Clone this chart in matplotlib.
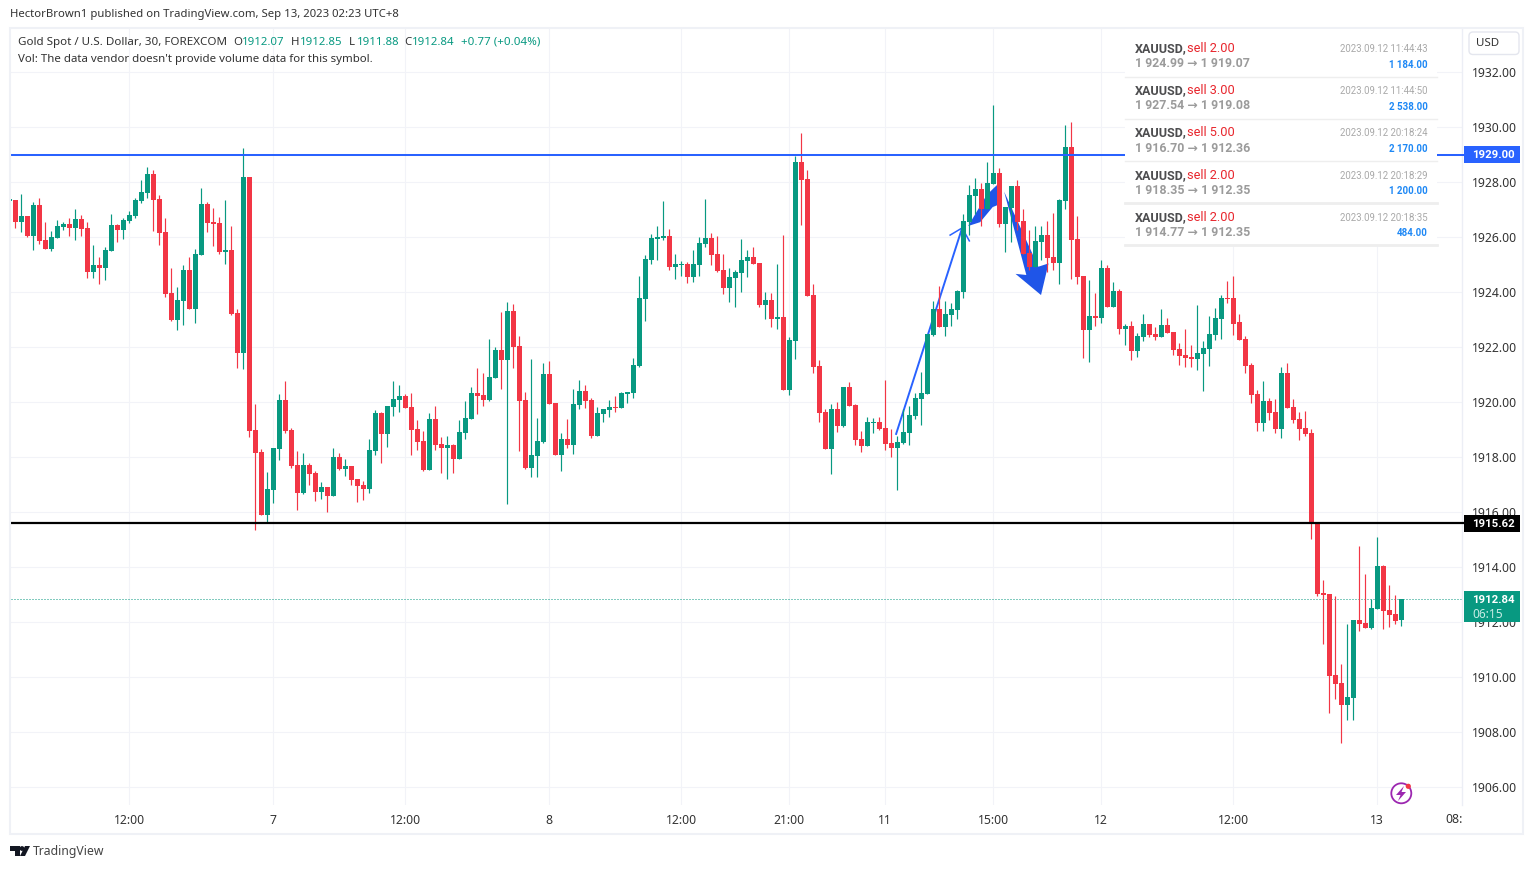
import matplotlib
matplotlib.use("Agg")
import matplotlib.pyplot as plt
import matplotlib.transforms as mtrans
from matplotlib.patches import Rectangle, FancyBboxPatch, Circle, Polygon
from matplotlib.lines import Line2D

# ---------- data (30 min bars, index 0 = first fully visible bar, first entry is the clipped bar before it) ----------
direction = ("G" "RGRGRRGGGR" "GRRGRGGRGG" "GGGRRRRGGR" "GGRRRGRRGR" "RRGGGRRRGR" "RGRGRGRRRG"
             "GRGGGRRRRG" "RRGRGGGRRG" "GRGRRRGGGR" "RGRGGRRGGG" "RGGGGGGGGR" "GGRGGGRRRG"
             "GGGRRGRGRG" "GRRRRRGRGR" "RRGGRRRGGG" "GGGGRGGGGG" "GRGGRGGRRR" "GGRRGGRRRG"
             "RGRGRGRGGR" "RGRRRRRGGG" "GGRRRRRRGR" "RGRRRRRRRR" "RRGGRRGGRR" "RG")
highs = [1927.38,
 1927.36,1927.58,1926.78,1927.29,1927.43,1926.56,1926.23,1926.63,1926.56,1926.70,
 1927.03,1926.81,1926.56,1925.72,1925.28,1925.65,1926.85,1926.48,1926.70,1926.96,
 1927.43,1928.08,1928.56,1928.45,1927.54,1926.70,1924.88,1924.19,1924.99,1925.28,
 1925.58,1927.79,1927.29,1927.07,1926.74,1927.36,1926.41,1923.39,1929.25,1928.19,
 1919.94,1918.30,1917.47,1918.34,1920.30,1920.78,1919.07,1918.23,1918.16,1917.79,
 1917.50,1917.10,1916.92,1918.34,1918.16,1917.94,1917.69,1917.21,1917.14,1918.67,
 1919.72,1919.65,1919.87,1920.77,1920.63,1920.30,1920.34,1919.36,1918.96,1919.61,
 1919.87,1918.74,1918.78,1918.48,1919.36,1920.05,1920.56,1921.25,1921.07,1922.30,
 1922.01,1923.28,1923.65,1923.58,1922.41,1920.38,1921.58,1919.43,1921.43,1921.50,
 1919.98,1918.88,1919.39,1920.48,1920.81,1920.63,1920.16,1919.83,1919.76,1920.08,
 1920.23,1920.38,1920.38,1921.61,1924.59,1925.36,1926.12,1926.41,1927.32,1926.30,
 1925.39,1925.14,1925.10,1925.54,1926.01,1927.39,1926.16,1926.05,1925.39,1924.88,
 1924.81,1925.94,1925.54,1925.65,1925.07,1924.01,1923.98,1925.03,1926.09,1922.38,
 1928.96,1929.79,1928.45,1924.30,1921.54,1919.76,1919.94,1920.01,1920.56,1920.74,
 1919.94,1918.96,1919.47,1919.43,1919.47,1920.81,1919.03,1918.78,1919.76,1919.87,
 1920.34,1921.10,1922.49,1923.68,1924.23,1923.68,1923.61,1924.09,1926.85,1927.90,
 1928.16,1927.98,1928.74,1930.81,1928.52,1927.10,1927.87,1928.09,1927.03,1926.27,
 1926.41,1926.41,1926.59,1926.89,1927.39,1930.09,1930.19,1926.78,1924.60,1924.45,
 1923.98,1925.18,1925.00,1924.38,1924.12,1922.85,1922.96,1922.52,1923.21,1922.85,
 1922.74,1923.39,1923.07,1922.56,1922.16,1922.67,1922.09,1923.54,1922.23,1923.14,
 1923.43,1923.90,1924.41,1924.59,1923.21,1922.41,1921.43,1920.45,1920.78,1920.16,
 1920.12,1921.29,1921.43,1920.12,1919.65,1919.69,1919.03,1915.65,1913.54,1913.03,
 1912.96,1910.48,1911.94,1912.08,1914.78,1913.76,1912.85,1915.10,1914.09,1913.36,
 1912.99,1912.85]
body_tops = [1927.38,
 1927.36,1926.78,1926.78,1927.18,1927.18,1925.90,1926.01,1926.41,1926.48,1926.48,
 1926.67,1926.67,1926.34,1924.99,1924.99,1925.54,1926.45,1926.45,1926.63,1926.81,
 1927.36,1927.65,1928.30,1928.30,1927.39,1926.19,1923.98,1923.72,1924.81,1924.81,
 1925.39,1927.21,1927.21,1926.56,1926.52,1925.54,1925.54,1923.25,1928.19,1928.19,
 1919.00,1918.19,1916.85,1918.34,1920.08,1920.08,1919.00,1917.72,1917.72,1917.72,
 1917.43,1916.92,1916.92,1918.01,1918.01,1917.69,1917.69,1917.21,1916.99,1918.27,
 1919.61,1919.61,1919.87,1920.12,1920.23,1920.23,1919.83,1919.03,1918.59,1919.39,
 1919.39,1918.48,1918.45,1918.45,1918.92,1919.43,1920.34,1920.34,1920.27,1920.92,
 1921.90,1921.90,1923.32,1923.32,1922.05,1920.08,1918.08,1918.59,1921.03,1921.03,
 1919.98,1918.67,1918.67,1919.94,1920.41,1920.41,1920.08,1919.61,1919.76,1919.83,
 1919.83,1920.34,1920.38,1921.36,1923.79,1925.21,1925.98,1926.01,1926.05,1926.05,
 1925.03,1925.03,1925.03,1925.03,1925.79,1925.98,1925.98,1925.39,1924.81,1924.56,
 1924.74,1925.18,1925.29,1925.29,1925.07,1923.72,1923.72,1923.10,1923.10,1922.27,
 1928.74,1928.74,1928.12,1923.90,1921.32,1919.65,1919.76,1919.76,1920.56,1920.56,
 1919.90,1918.67,1919.29,1919.29,1919.29,1919.07,1918.52,1918.56,1918.92,1919.54,
 1920.16,1920.34,1922.49,1923.39,1923.39,1923.21,1923.39,1924.05,1926.59,1927.54,
 1927.76,1927.76,1927.98,1928.34,1928.34,1927.10,1927.87,1927.87,1926.59,1925.43,
 1925.87,1926.09,1926.09,1925.29,1927.36,1929.29,1929.29,1925.94,1924.60,1923.14,
 1923.14,1924.88,1924.88,1924.05,1924.05,1922.78,1922.78,1922.41,1922.85,1922.85,
 1922.49,1922.81,1922.81,1922.56,1921.94,1921.72,1921.65,1921.80,1921.98,1922.49,
 1923.07,1923.79,1923.79,1923.79,1922.92,1922.30,1921.36,1920.30,1920.05,1920.05,
 1919.65,1921.07,1921.07,1919.83,1919.39,1919.07,1918.89,1915.65,1913.07,1913.03,
 1910.09,1909.79,1909.29,1912.08,1912.08,1911.98,1912.52,1914.05,1914.05,1912.45,
 1912.30,1912.84]
body_bottoms = [1927.32,
 1926.57,1926.56,1926.05,1926.05,1925.87,1925.58,1925.58,1925.98,1926.38,1926.34,
 1926.34,1926.30,1924.74,1924.74,1924.88,1924.88,1925.50,1926.27,1926.27,1926.59,
 1926.78,1927.32,1927.61,1927.36,1926.16,1923.94,1922.99,1922.99,1923.68,1923.39,
 1923.39,1925.36,1926.52,1926.48,1925.47,1925.47,1923.21,1921.79,1921.79,1918.96,
 1918.16,1915.90,1915.90,1916.81,1918.30,1918.96,1917.68,1916.70,1916.70,1917.39,
 1916.74,1916.74,1916.59,1916.59,1917.58,1917.58,1917.18,1916.96,1916.85,1916.85,
 1918.23,1918.85,1918.85,1919.83,1920.08,1919.79,1918.99,1918.56,1917.54,1917.54,
 1918.45,1918.34,1918.34,1917.94,1917.94,1918.88,1919.39,1920.23,1920.08,1920.08,
 1920.89,1921.54,1921.54,1922.01,1920.05,1917.61,1917.61,1918.05,1918.56,1919.94,
 1918.08,1918.08,1918.45,1918.45,1919.90,1920.05,1918.78,1918.78,1919.58,1919.72,
 1919.79,1919.79,1920.30,1920.34,1921.32,1923.76,1925.18,1925.94,1925.98,1924.92,
 1924.92,1924.99,1924.56,1924.56,1924.99,1925.76,1925.36,1924.78,1924.16,1924.16,
 1924.52,1924.70,1925.14,1925.03,1923.54,1923.54,1923.03,1923.03,1920.45,1920.45,
 1922.23,1928.09,1923.87,1921.29,1919.61,1918.30,1918.30,1919.14,1919.14,1919.87,
 1918.63,1918.41,1918.41,1919.25,1919.03,1918.48,1918.34,1918.34,1918.52,1918.89,
 1919.50,1920.12,1920.30,1922.45,1922.74,1922.74,1923.18,1923.36,1924.01,1926.56,
 1927.50,1927.03,1927.03,1927.94,1926.49,1926.49,1927.07,1926.56,1925.39,1924.92,
 1924.92,1925.83,1925.25,1925.07,1925.07,1927.32,1925.90,1924.56,1922.63,1922.63,
 1923.07,1923.07,1923.47,1923.47,1922.67,1922.67,1921.87,1921.87,1922.38,1922.45,
 1922.38,1922.38,1922.52,1921.90,1921.69,1921.61,1921.58,1921.58,1921.76,1921.94,
 1922.45,1923.03,1923.76,1922.85,1922.27,1921.32,1920.27,1919.25,1919.25,1919.61,
 1919.03,1919.03,1919.79,1919.36,1919.03,1918.85,1915.61,1913.03,1912.99,1910.05,
 1909.76,1908.99,1908.99,1909.25,1911.94,1911.79,1911.79,1912.49,1912.41,1912.27,
 1912.05,1912.07]
lows = [1927.32,
 1926.35,1926.19,1926.01,1925.54,1925.76,1925.58,1925.50,1925.98,1926.27,1926.05,
 1925.90,1926.05,1924.52,1924.52,1924.30,1924.45,1925.50,1925.83,1925.94,1926.52,
 1926.70,1927.25,1927.43,1926.23,1925.72,1923.83,1922.96,1922.63,1922.81,1923.39,
 1922.89,1925.36,1926.19,1925.68,1925.39,1925.03,1923.18,1921.25,1921.21,1918.74,
 1915.36,1915.90,1915.61,1916.34,1917.90,1918.89,1917.61,1916.08,1916.67,1916.99,
 1916.41,1916.49,1916.01,1916.59,1917.54,1917.32,1916.99,1916.38,1916.45,1916.70,
 1918.09,1917.79,1918.38,1919.50,1919.65,1919.79,1918.08,1918.27,1917.50,1917.54,
 1918.27,1917.43,1917.21,1917.43,1917.94,1918.67,1919.39,1919.58,1919.87,1920.05,
 1920.89,1920.48,1916.30,1921.25,1918.23,1917.58,1917.29,1917.29,1918.52,1919.94,
 1918.08,1917.50,1918.34,1918.12,1919.76,1919.79,1918.70,1918.78,1919.29,1919.47,
 1919.65,1919.79,1919.98,1920.16,1921.29,1922.96,1925.03,1925.18,1925.90,1924.81,
 1924.48,1924.59,1924.34,1924.38,1924.59,1925.65,1924.99,1924.74,1923.94,1923.65,
 1923.47,1924.01,1924.56,1925.03,1923.47,1923.03,1922.74,1922.67,1920.45,1920.27,
 1921.58,1926.45,1923.87,1921.07,1919.29,1918.30,1917.39,1918.92,1919.10,1919.87,
 1918.45,1918.19,1918.41,1918.89,1918.99,1918.27,1918.01,1916.81,1918.48,1918.45,
 1919.39,1919.18,1920.30,1922.41,1922.74,1922.41,1922.78,1923.03,1923.79,1926.09,
 1926.85,1926.41,1927.03,1927.94,1926.38,1925.47,1925.83,1926.27,1925.39,1924.81,
 1924.92,1925.18,1924.74,1924.81,1924.30,1927.03,1924.48,1924.30,1921.61,1921.47,
 1922.78,1922.89,1923.47,1923.47,1922.49,1922.09,1921.54,1921.65,1922.23,1922.38,
 1922.27,1922.38,1922.52,1921.72,1921.36,1921.29,1921.29,1921.18,1920.41,1921.32,
 1922.27,1922.30,1923.61,1922.45,1922.27,1921.07,1919.98,1918.96,1918.96,1919.36,
 1918.89,1918.70,1919.79,1919.25,1918.63,1918.78,1915.03,1912.96,1911.21,1908.70,
 1909.21,1907.61,1908.45,1908.45,1911.68,1911.79,1911.76,1912.49,1911.76,1911.83,
 1911.94,1911.88]

price_ticks = [1906 + 2 * k for k in range(14)]
time_ticks = [19, 43, 65, 89, 111, 129, 145, 163, 181, 203, 227]
time_labels = ["12:00", "7", "12:00", "8", "12:00", "21:00", "11", "15:00", "12", "12:00", "13"]
resistance = 1929.00
support = 1915.62
last_price = 1912.84

trade_sides = ["sell 2.00", "sell 3.00", "sell 5.00", "sell 2.00", "sell 2.00"]
trade_moves = ["1 924.99 → 1 919.07", "1 927.54 → 1 919.08", "1 916.70 → 1 912.36",
               "1 918.35 → 1 912.35", "1 914.77 → 1 912.35"]
trade_times = ["2023.09.12 11:44:43", "2023.09.12 11:44:50", "2023.09.12 20:18:24",
               "2023.09.12 20:18:29", "2023.09.12 20:18:35"]
trade_profits = ["1 184.00", "2 538.00", "2 170.00", "1 200.00", "484.00"]

# hand-drawn arrows: (bar index, price)
thin_arrow = [(146.8, 1918.85), (157.8, 1926.34)]
thin_barbs = [(155.8, 1926.08), (157.8, 1926.34), (159.0, 1925.87)]
wedge_up = [(158.8, 1926.41), (161.9, 1927.54), (163.6, 1927.90), (163.7, 1927.17), (162.9, 1927.10), (160.8, 1926.55)]
wedge_down = [(164.8, 1927.66), (170.5, 1924.93), (172.2, 1925.05), (170.95, 1923.90), (166.7, 1924.67), (168.5, 1924.63)]

GREEN = "#089981"
RED = "#f23645"
BLUE = "#2962ff"
GRID = "#f2f3f8"
W, H = 1534, 869
NARROW = ["Roboto", "DejaVu Sans"]
UI = ["Noto Sans", "DejaVu Sans"]

fig = plt.figure(figsize=(W / 100, H / 100), dpi=100, facecolor="white")
PX = mtrans.Affine2D().scale(1 / W, -1 / H).translate(0, 1) + fig.transFigure

L, R, T, B = 10.5, 1461.5, 28.0, 805.0
ax = fig.add_axes([L / W, 1 - B / H, (R - L) / W, (B - T) / H])
ax.set_xlim((L - 15.33) / 6, (R - 15.33) / 6)
ax.set_ylim(1928 - (B - 182.3) / 27.5, 1928 - (T - 182.3) / 27.5)
for s in ax.spines.values():
    s.set_visible(False)
ax.spines["right"].set_visible(True)
ax.spines["right"].set_color("#eceef5")
ax.spines["right"].set_linewidth(1.0)
ax.yaxis.tick_right()
ax.set_yticks(price_ticks, [f"{p:.2f}" for p in price_ticks])
ax.set_xticks(time_ticks, time_labels)
ax.tick_params(axis="y", length=0, pad=7.5, labelsize=8.8, labelcolor="#333333")
ax.tick_params(axis="x", length=0, pad=6.5, labelsize=8.8, labelcolor="#333333")
for lb in ax.get_xticklabels() + ax.get_yticklabels():
    lb.set_family(UI)
ax.grid(True, color=GRID, lw=0.8)
ax.set_axisbelow(True)

# arrows under the candles
ax.add_patch(Polygon(wedge_up, closed=True, fc="#1f55e8", ec="none", zorder=1.5))
ax.add_patch(Polygon(wedge_down, closed=True, fc="#1f55e8", ec="none", zorder=1.5))
ax.plot(*zip(*thin_arrow), color=BLUE, lw=1.4, zorder=1.5)
ax.plot(*zip(*thin_barbs), color=BLUE, lw=1.1, zorder=1.5)

# candles
xs = [k - 1 for k in range(len(direction))]
colors = [GREEN if d == "G" else RED for d in direction]
ax.vlines(xs, lows, highs, colors=colors, lw=0.85, zorder=2)
ax.bar(xs, [t - b for t, b in zip(body_tops, body_bottoms)], bottom=body_bottoms,
       width=5 / 6, color=colors, linewidth=0, zorder=2.1)

# horizontal lines
x0, x1 = ax.get_xlim()
x_box = (1464 - 15.33) / 6
ax.hlines(resistance, x0, x_box, color=BLUE, lw=1.45, zorder=3, clip_on=False)
ax.hlines(support, x0, x_box, color="black", lw=1.6, zorder=3, clip_on=False)
ax.hlines(last_price, x0, x1, color=GREEN, lw=0.72, linestyles=(0, (1, 2)), zorder=1.8)

# outer frame
fig.add_artist(Rectangle((10, 27.5), 1513, 806, transform=PX, fc="none", ec="#eff1f6", lw=1.5, zorder=0.5))


def ftext(x, y, s, **kw):
    kw.setdefault("family", UI)
    kw.setdefault("fontsize", 8.6)
    kw.setdefault("va", "center")
    kw.setdefault("color", "#333333")
    kw.setdefault("zorder", 8)
    return fig.text(x, y, s, transform=PX, **kw)


# clipped right-hand time label
ftext(1454, 819.5, "08:", fontsize=8.8, ha="center")

# header
ftext(10, 14.5, "HectorBrown1 published on TradingView.com, Sep 13, 2023 02:23 UTC+8", fontsize=8.15)
ftext(18, 42.5, "Gold Spot / U.S. Dollar, 30, FOREXCOM", fontsize=8.35)
for x, vx, letter, v in [(233, 241.5, "O", "1912.07"), (291, 299.5, "H", "1912.85"),
                         (349, 356.5, "L", "1911.88"), (404, 411.5, "C", "1912.84")]:
    ftext(x, 42.5, letter, fontsize=8.2)
    ftext(vx, 42.5, v, fontsize=8.2, color=GREEN)
ftext(461, 42.5, "+0.77 (+0.04%)", fontsize=8.3, color=GREEN)
ftext(18, 59.5, "Vol: The data vendor doesn't provide volume data for this symbol.", fontsize=8.25)

# trades table
fig.add_artist(Rectangle((1125, 28.5), 312, 217, transform=PX, fc="white", ec="none", zorder=5))
row_name_y = [48.5, 90.5, 133, 175.5, 217.5]
row_sep_y = [76.5, 118.5, 160.5, 203, 244.5]
for i, y in enumerate(row_name_y):
    ftext(1135, y, "XAUUSD,", family=NARROW, weight="bold", fontsize=9.0, color="#4d4d4f")
    ftext(1187, y, trade_sides[i], family=NARROW, fontsize=9.2, color="#e8262d")
    ftext(1135, y + 15, trade_moves[i], family=NARROW, weight="bold", fontsize=8.9, color="#9b9b9b")
    ftext(1428, y + 0.5, trade_times[i], family=NARROW, fontsize=6.9, color="#a9a9a9", ha="right")
    ftext(1428, y + 16, trade_profits[i], family=NARROW, weight="bold", fontsize=7.0, color="#1e88f5", ha="right")
    fig.add_artist(Line2D([1125, 1437], [row_sep_y[i]] * 2, transform=PX, color="#eeeeee",
                          lw=1.0 if i < 3 else 2.0, zorder=6))

# price-scale boxes
fig.add_artist(FancyBboxPatch((1469, 32), 50, 22.5, boxstyle="round,pad=0,rounding_size=4", transform=PX,
                              fc="white", ec="#e4e6ee", lw=1.0, zorder=6))
ftext(1488, 43.5, "USD", ha="center", fontsize=8.3)
for (y0, h, c, s) in [(146, 17, BLUE, "1929.00"), (515, 17, "black", "1915.62")]:
    fig.add_artist(Rectangle((1464, y0), 56, h, transform=PX, fc=c, ec="none", zorder=6))
    ftext(1493, y0 + h / 2 + 0.5, s, ha="center", color="white", weight="bold", fontsize=8.2, family=NARROW)
fig.add_artist(Rectangle((1464, 591), 56, 31, transform=PX, fc=GREEN, ec="none", zorder=6))
ftext(1472, 600, "1912.84", color="white", weight="bold", fontsize=8.2, family=NARROW)
ftext(1472, 614, "06:15", color="#c8ece4", fontsize=8.6)

# bolt icon
fig.add_artist(Circle((1401.3, 793.3), 10, transform=PX, fc="white", ec="#9c27b0", lw=1.3, zorder=6))
fig.add_artist(Polygon([(1404, 786), (1396, 795), (1400.5, 795), (1398, 801), (1406, 792), (1401.5, 792)],
                       transform=PX, fc="#9c27b0", ec="none", zorder=7))
fig.add_artist(Circle((1408.3, 786.3), 2.6, transform=PX, fc="#f23645", ec="none", zorder=8))

# TradingView logo
fig.add_artist(Polygon([(10, 846), (20, 846), (20, 856), (15, 856), (15, 851), (10, 851)], transform=PX, fc="#131722", ec="none"))
fig.add_artist(Circle((22, 848.5), 2.4, transform=PX, fc="#131722", ec="none"))
fig.add_artist(Polygon([(25, 846), (30, 846), (25, 856), (20, 856)], transform=PX, fc="#131722", ec="none"))
ftext(33, 851.5, "TradingView", fontsize=8.8, color="#444444")

fig.savefig("out.png", dpi=100)
